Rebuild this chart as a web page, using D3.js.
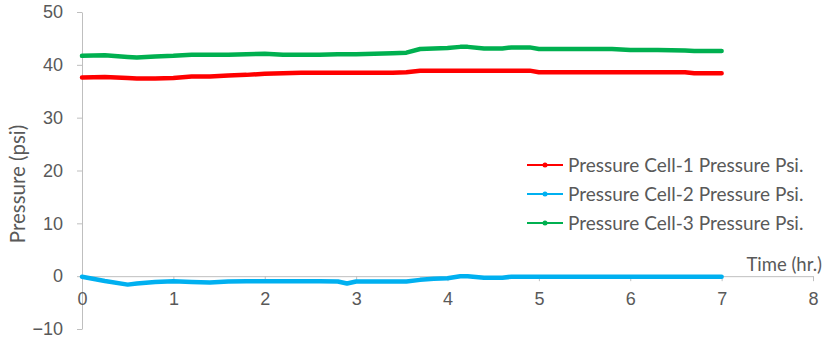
<!DOCTYPE html>
<html>
<head>
<meta charset="utf-8">
<script src="https://cdn.jsdelivr.net/npm/d3@7"></script>
<style>
  html, body { margin: 0; padding: 0; background: #fff; }
  svg { display: block; font-family: Lato, "Open Sans", sans-serif; }
</style>
</head>
<body>
<svg id="chart" width="827" height="345"></svg>
<script>
// Elapsed time of each reading (hours)
const timeHours = [0, 0.25, 0.5, 0.6, 0.8, 1.0, 1.2, 1.4, 1.6, 1.8, 2.0, 2.2, 2.4, 2.6, 2.8, 2.9, 3.0, 3.2, 3.4, 3.55, 3.7, 3.85, 4.0, 4.14, 4.22, 4.4, 4.6, 4.7, 4.9, 5.0, 5.2, 5.5, 5.8, 6.0, 6.3, 6.6, 6.7, 7.0];

// Pressure readings (psi) for each cell
const cell1Psi = [37.6, 37.7, 37.5, 37.4, 37.4, 37.5, 37.8, 37.8, 38.0, 38.1, 38.3, 38.4, 38.5, 38.5, 38.5, 38.5, 38.5, 38.5, 38.5, 38.6, 38.9, 38.9, 38.9, 38.9, 38.9, 38.9, 38.9, 38.9, 38.9, 38.6, 38.6, 38.6, 38.6, 38.6, 38.6, 38.6, 38.4, 38.4];
const cell2Psi = [-0.1, -0.9, -1.6, -1.4, -1.1, -0.95, -1.1, -1.2, -1.0, -0.95, -0.95, -0.95, -0.95, -0.95, -1.0, -1.4, -1.0, -1.0, -1.0, -1.0, -0.7, -0.5, -0.4, 0.0, 0.0, -0.3, -0.3, -0.1, -0.1, -0.1, -0.1, -0.1, -0.1, -0.1, -0.1, -0.1, -0.1, -0.1];
const cell3Psi = [41.7, 41.8, 41.5, 41.4, 41.6, 41.7, 41.9, 41.9, 41.9, 42.0, 42.1, 41.9, 41.9, 41.9, 42.0, 42.0, 42.0, 42.1, 42.2, 42.3, 43.0, 43.1, 43.2, 43.4, 43.4, 43.1, 43.1, 43.3, 43.3, 43.0, 43.0, 43.0, 43.0, 42.8, 42.8, 42.7, 42.6, 42.6];

const seriesNames = ["Pressure Cell-1 Pressure Psi.", "Pressure Cell-2 Pressure Psi.", "Pressure Cell-3 Pressure Psi."];
const seriesColors = ["#ff0000", "#00b0f0", "#00b050"];
const seriesValues = [cell1Psi, cell2Psi, cell3Psi];

const xTicks = [0, 1, 2, 3, 4, 5, 6, 7, 8];
const yTicks = [-10, 0, 10, 20, 30, 40, 50];

const svg = d3.select("#chart");
const axisColor = "#bfbfbf";
const textColor = "#595959";

const x = d3.scaleLinear().domain([0, 8]).range([82, 813]);
const y = d3.scaleLinear().domain([-10, 50]).range([329, 12]);

// Y axis on the left
const yAxis = svg.append("g")
  .attr("transform", `translate(${x(0)},0)`)
  .call(d3.axisLeft(y).tickValues(yTicks).tickSize(5).tickSizeOuter(0).tickPadding(14));
yAxis.select(".domain").attr("stroke", axisColor);
yAxis.selectAll(".tick line").attr("stroke", axisColor);
yAxis.selectAll(".tick text").attr("fill", textColor).style("font-size", "18px");

// X axis crossing at zero pressure
const xAxis = svg.append("g")
  .attr("transform", `translate(0,${y(0)})`)
  .call(d3.axisBottom(x).tickValues(xTicks).tickSize(5).tickSizeOuter(0).tickPadding(11));
xAxis.select(".domain").attr("stroke", axisColor);
xAxis.selectAll(".tick line").attr("stroke", axisColor);
xAxis.selectAll(".tick text").attr("fill", textColor).style("font-size", "18px");

// Axis titles
svg.append("text")
  .attr("transform", `translate(25,184) rotate(-90)`)
  .attr("text-anchor", "middle")
  .attr("fill", textColor)
  .style("font-size", "20.5px")
  .text("Pressure (psi)");

svg.append("text")
  .attr("x", 822).attr("y", 271)
  .attr("text-anchor", "end")
  .attr("fill", textColor)
  .style("font-size", "18.5px")
  .text("Time (hr.)");

// Series lines
const line = d3.line()
  .x((d, i) => x(timeHours[i]))
  .y(d => y(d));

seriesValues.forEach((vals, k) => {
  svg.append("path")
    .datum(vals)
    .attr("fill", "none")
    .attr("stroke", seriesColors[k])
    .attr("stroke-width", 4.5)
    .attr("stroke-linejoin", "round")
    .attr("stroke-linecap", "round")
    .attr("d", line);
});

// Legend
const legend = svg.append("g");
const legendY = [165, 194, 223];
seriesNames.forEach((name, k) => {
  const g = legend.append("g").attr("transform", `translate(527,${legendY[k]})`);
  g.append("line").attr("x1", 0).attr("x2", 36).attr("y1", 0).attr("y2", 0)
    .attr("stroke", seriesColors[k]).attr("stroke-width", 2);
  g.append("circle").attr("cx", 18).attr("cy", 0).attr("r", 2.5).attr("fill", seriesColors[k]);
  g.append("text").attr("x", 41).attr("y", 0).attr("dy", "0.35em")
    .attr("fill", textColor).style("font-size", "19px").text(name);
});
</script>
</body>
</html>
